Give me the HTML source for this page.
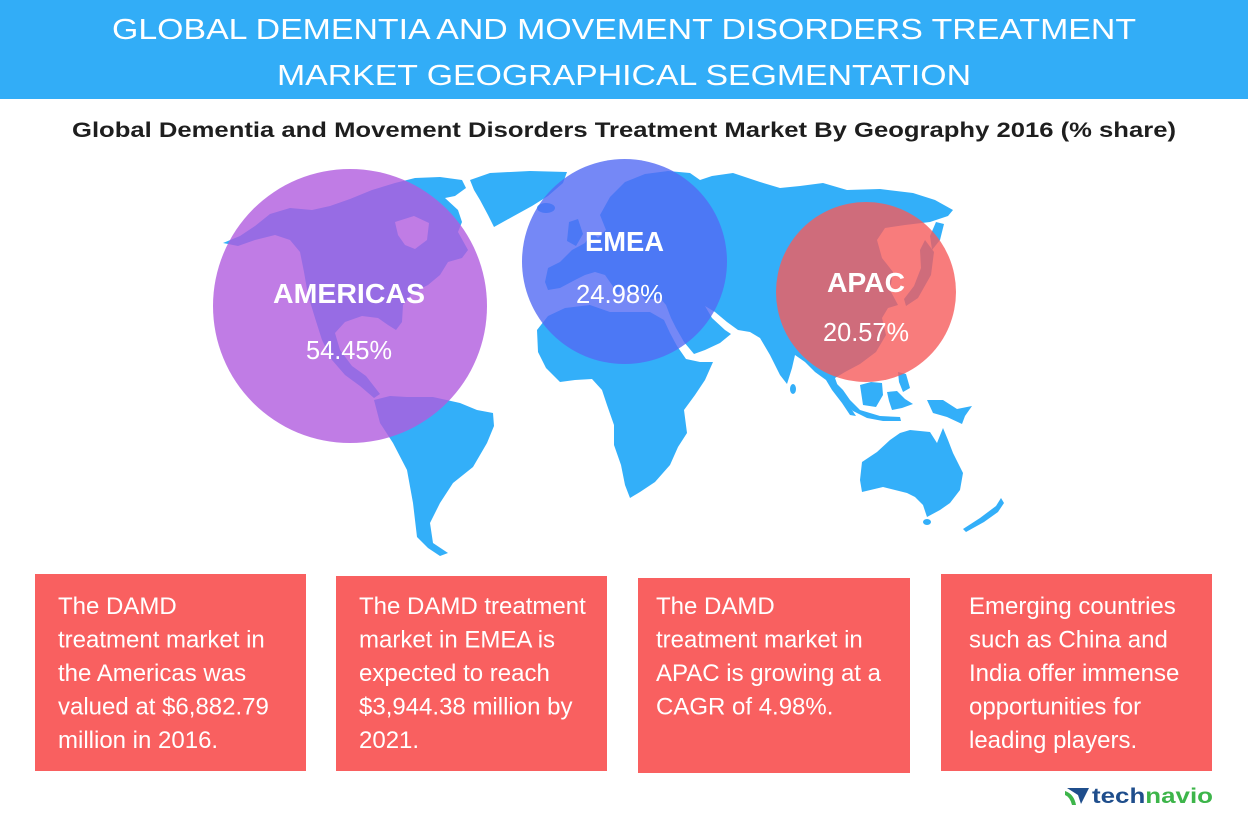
<!DOCTYPE html>
<html>
<head>
<meta charset="utf-8">
<style>
  html,body{margin:0;padding:0;background:#fff;}
  body{width:1248px;height:816px;overflow:hidden;}
  svg{display:block;}
  text{font-family:"Liberation Sans", Arial, sans-serif;}
</style>
</head>
<body>
<svg width="1248" height="816" viewBox="0 0 1248 816" xmlns="http://www.w3.org/2000/svg">
  <!-- Header -->
  <rect x="0" y="0" width="1248" height="99" fill="#32adf7"/>
  <text x="112" y="39" font-size="29" fill="#ffffff" textLength="1024" lengthAdjust="spacingAndGlyphs">GLOBAL DEMENTIA AND MOVEMENT DISORDERS TREATMENT</text>
  <text x="277" y="85" font-size="29" fill="#ffffff" textLength="694" lengthAdjust="spacingAndGlyphs">MARKET GEOGRAPHICAL SEGMENTATION</text>

  <!-- Subtitle -->
  <text x="72" y="137" font-size="21" font-weight="bold" fill="#1e1e1e" textLength="1104" lengthAdjust="spacingAndGlyphs">Global Dementia and Movement Disorders Treatment Market By Geography 2016 (% share)</text>

  <!-- World map -->
  <g fill="#33aff9">
    <!-- North America -->
    <path d="M223,243 L240,236 L255,226 L270,214 L290,208 L312,210 L330,206 L350,199 L372,190 L395,183 L415,178 L440,177 L462,180 L466,188 L455,196 L445,198 L458,210 L462,222 L458,232 L468,250 L462,258 L448,262 L440,275 L428,285 L412,293 L403,305 L402,322 L396,330 L388,325 L378,318 L362,316 L345,322 L335,333 L340,350 L352,366 L366,376 L380,394 L374,398 L360,386 L345,375 L332,360 L322,340 L315,318 L308,295 L304,272 L300,252 L290,240 L275,235 L255,240 L238,246 Z"/>
    <!-- Greenland -->
    <path d="M470,180 L490,173 L530,171 L567,172 L563,183 L548,196 L532,206 L512,217 L494,227 L488,215 L480,200 L474,190 Z"/>
    <!-- South America -->
    <path d="M374,400 L390,396 L407,397 L433,397 L460,403 L477,410 L493,413 L494,426 L487,443 L473,467 L453,483 L440,503 L430,523 L433,543 L448,553 L440,556 L428,548 L417,537 L413,503 L407,470 L393,443 L380,423 Z"/>
    <!-- Iceland -->
    <ellipse cx="546" cy="208" rx="9" ry="5"/>
    <!-- UK -->
    <path d="M569,222 L578,219 L583,234 L576,246 L567,241 Z"/>
    <!-- Eurasia -->
    <path d="M545,282 L548,268 L560,262 L572,250 L585,243 L592,232 L598,238 L606,230 L600,215 L610,197 L625,182 L645,174 L668,171 L690,173 L700,180 L712,176 L733,173 L760,182 L780,188 L800,186 L823,183 L847,190 L880,189 L913,193 L935,200 L953,210 L948,216 L930,222 L905,225 L885,228 L877,240 L882,258 L893,272 L890,290 L898,305 L888,308 L882,318 L886,335 L876,352 L860,364 L845,372 L835,378 L840,392 L848,404 L856,416 L850,415 L842,403 L832,390 L826,380 L815,372 L805,362 L795,355 L792,368 L787,384 L780,375 L770,355 L760,338 L750,332 L738,330 L727,322 L715,312 L705,306 L712,318 L725,330 L731,334 L720,343 L705,350 L694,354 L684,342 L676,328 L671,318 L666,305 L660,298 L645,300 L640,292 L628,292 L622,285 L618,295 L612,285 L605,275 L595,272 L585,275 L575,280 L560,288 L548,290 Z"/>
    <!-- Japan -->
    <path d="M925,240 L934,252 L931,275 L918,298 L906,306 L904,299 L914,286 L921,268 L920,250 Z"/>
    <!-- Kamchatka -->
    <path d="M936,222 L944,224 L940,240 L932,250 L930,236 Z"/>
    <!-- Sri Lanka -->
    <ellipse cx="793" cy="389" rx="3" ry="5"/>
    <!-- Africa -->
    <path d="M537,330 L548,316 L565,308 L590,305 L610,312 L630,312 L650,312 L664,320 L670,333 L677,346 L686,359 L700,362 L713,362 L705,380 L695,395 L684,410 L687,433 L678,447 L670,465 L655,482 L640,492 L630,498 L625,485 L621,465 L614,445 L614,425 L607,405 L602,390 L592,379 L575,380 L560,382 L546,368 L538,352 Z"/>
    <!-- Sumatra / Java chain -->
    <path d="M825,377 L833,380 L843,390 L850,400 L860,410 L880,416 L900,417 L901,421 L883,421 L867,418 L853,411 L843,401 L833,388 Z"/>
    <!-- Borneo -->
    <path d="M860,385 L871,382 L882,383 L883,395 L876,407 L863,405 Z"/>
    <!-- Sulawesi -->
    <path d="M887,392 L897,391 L905,399 L913,404 L902,408 L892,410 L889,401 Z"/>
    <!-- Philippines -->
    <path d="M898,372 L906,374 L910,388 L903,392 L899,382 Z"/>
    <!-- New Guinea -->
    <path d="M927,400 L943,400 L957,409 L972,406 L965,416 L962,424 L947,417 L933,413 Z"/>
    <!-- Australia -->
    <path d="M900,433 L910,430 L930,432 L937,443 L943,428 L948,440 L953,453 L963,473 L960,490 L950,503 L940,510 L927,517 L923,505 L915,497 L907,493 L895,490 L883,487 L862,492 L860,480 L862,462 L877,452 L890,440 Z"/>
    <ellipse cx="927" cy="522" rx="4" ry="3"/>
    <!-- New Zealand -->
    <path d="M963,529 L980,518 L996,506 L1001,498 L1004,503 L998,512 L984,522 L966,532 Z"/>
  </g>
  <!-- Hudson Bay -->
  <path d="M395,222 L414,216 L429,223 L427,240 L415,249 L405,245 L398,235 Z" fill="#ffffff"/>

  <!-- Circles -->
  <circle cx="350" cy="306" r="137" fill="rgb(176,91,222)" fill-opacity="0.8"/>
  <circle cx="624.5" cy="261.5" r="102.5" fill="rgb(82,106,244)" fill-opacity="0.8"/>
  <circle cx="866" cy="292" r="90" fill="rgb(246,91,91)" fill-opacity="0.8"/>

  <!-- Circle labels -->
  <text x="273" y="303" font-size="28" font-weight="bold" fill="#ffffff" textLength="152" lengthAdjust="spacingAndGlyphs">AMERICAS</text>
  <text x="306" y="359" font-size="26" fill="#ffffff" textLength="86" lengthAdjust="spacingAndGlyphs">54.45%</text>
  <text x="585" y="251" font-size="28" font-weight="bold" fill="#ffffff" textLength="79" lengthAdjust="spacingAndGlyphs">EMEA</text>
  <text x="576" y="303" font-size="26" fill="#ffffff" textLength="87" lengthAdjust="spacingAndGlyphs">24.98%</text>
  <text x="827" y="292" font-size="28" font-weight="bold" fill="#ffffff" textLength="78" lengthAdjust="spacingAndGlyphs">APAC</text>
  <text x="823" y="341" font-size="26" fill="#ffffff" textLength="86" lengthAdjust="spacingAndGlyphs">20.57%</text>

  <!-- Boxes -->
  <g fill="#f96060">
    <rect x="35" y="574" width="271" height="197"/>
    <rect x="336" y="576" width="271" height="195"/>
    <rect x="638" y="578" width="272" height="195"/>
    <rect x="941" y="574" width="271" height="197"/>
  </g>
  <g font-size="24" fill="#ffffff">
    <text x="58" y="614">The DAMD</text>
    <text x="58" y="647.5">treatment market in</text>
    <text x="58" y="681">the Americas was</text>
    <text x="58" y="714.5">valued at $6,882.79</text>
    <text x="58" y="748">million in 2016.</text>

    <text x="359" y="614">The DAMD treatment</text>
    <text x="359" y="647.5">market in EMEA is</text>
    <text x="359" y="681">expected to reach</text>
    <text x="359" y="714.5">$3,944.38 million by</text>
    <text x="359" y="748">2021.</text>

    <text x="656" y="614">The DAMD</text>
    <text x="656" y="647.5">treatment market in</text>
    <text x="656" y="681">APAC is growing at a</text>
    <text x="656" y="714.5">CAGR of 4.98%.</text>

    <text x="969" y="614">Emerging countries</text>
    <text x="969" y="647.5">such as China and</text>
    <text x="969" y="681">India offer immense</text>
    <text x="969" y="714.5">opportunities for</text>
    <text x="969" y="748">leading players.</text>
  </g>

  <!-- Logo -->
  <path d="M1067,788 L1089,788 L1081,804 L1078,795 Z" fill="#1f4e8c"/>
  <path d="M1065,791 Q1074,794 1076,805 L1072,805 Q1070,797 1065,795 Z" fill="#3db54a"/>
  <text x="1092" y="803" font-size="21" font-weight="bold" textLength="121" lengthAdjust="spacingAndGlyphs"><tspan fill="#1f4e8c">tech</tspan><tspan fill="#3db54a">navio</tspan></text>
</svg>
</body>
</html>
